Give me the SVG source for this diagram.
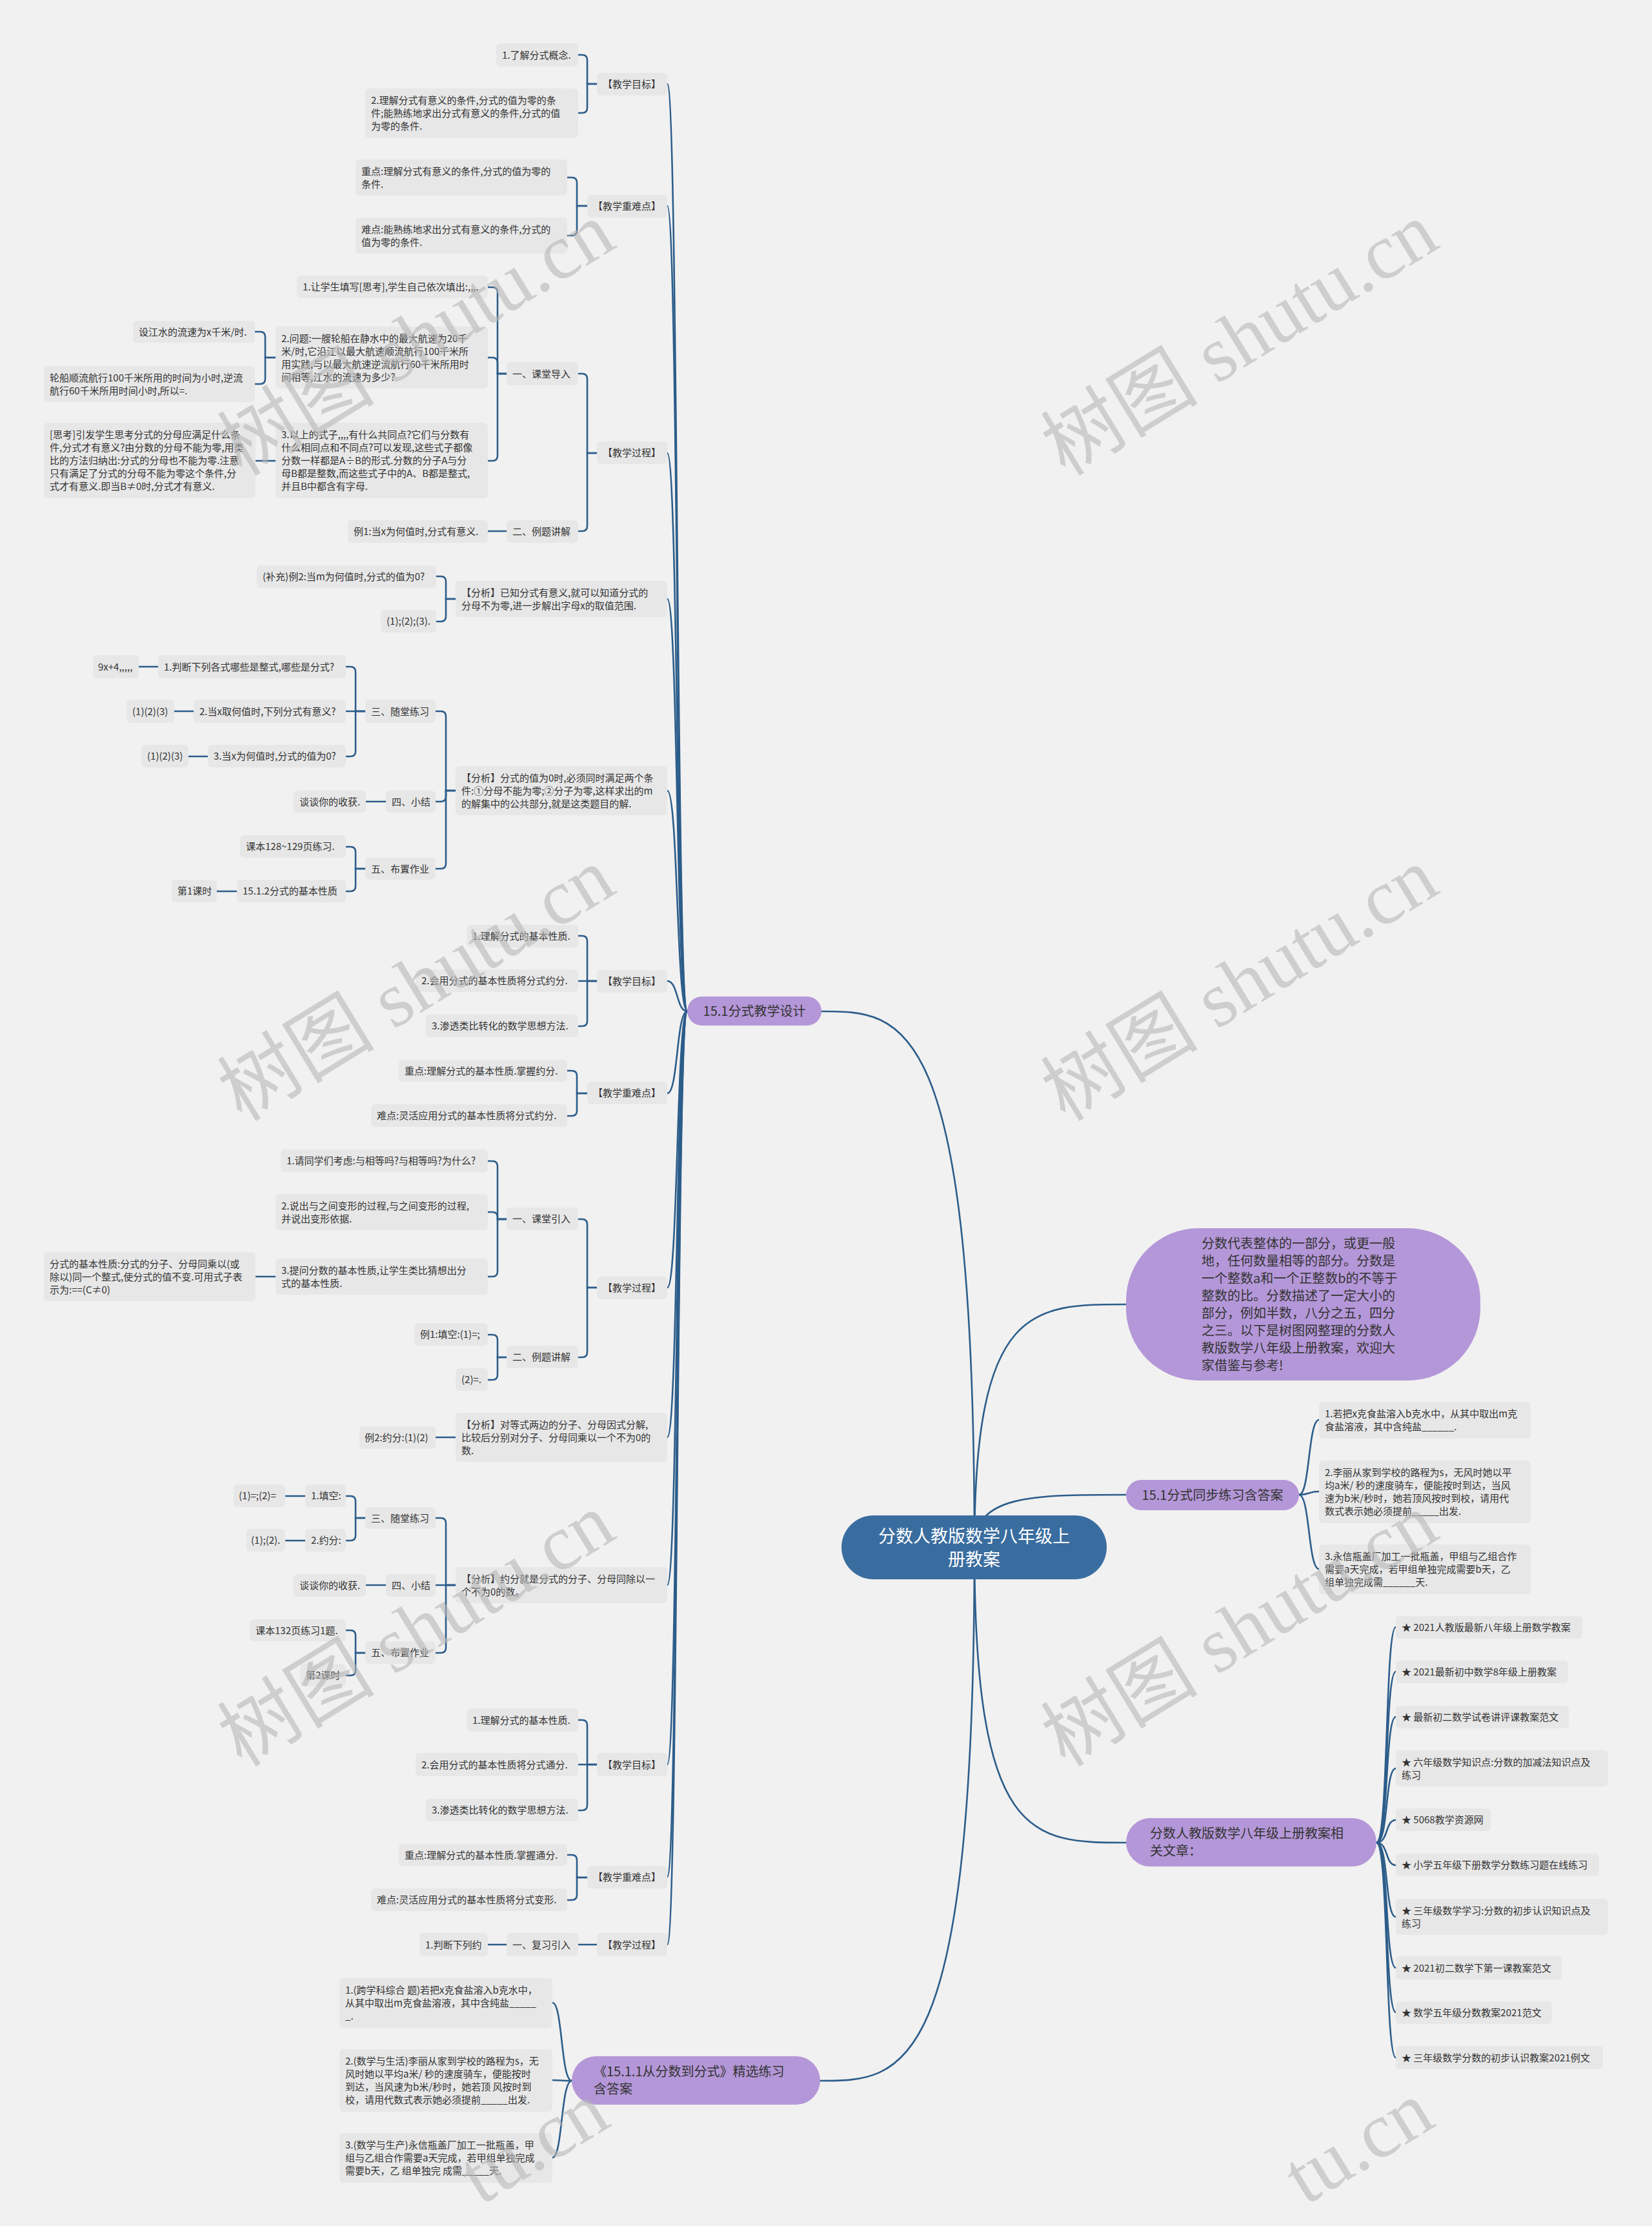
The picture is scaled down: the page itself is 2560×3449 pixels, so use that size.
<svg xmlns="http://www.w3.org/2000/svg" width="2560" height="3449" viewBox="0 0 2560 3449">
<style>
.bg{fill:#f1f1f1}
.lf{fill:#e7e7e7}
.p{fill:#b497d8}
.rt{fill:#3a6d9f}
text{font-family:"Noto Sans CJK SC","Liberation Sans",sans-serif;fill:#333}
.t{font-size:15px}
.t1{font-size:20px}
.tr{font-size:27px;fill:#fff}
.c{fill:none;stroke:#2c5d8a;stroke-width:2.6;stroke-linecap:round}
.wm{font-family:"Liberation Serif","Noto Sans CJK SC",serif;font-size:122px;fill:#b8b8b8;fill-opacity:0.6}
</style>
<rect class="bg" x="0" y="0" width="2560" height="3449"/>

<g id="connectors">
<path class="c" d="M 1510 2397 C 1510 1567, 1400 1567, 1273 1567"/>
<path class="c" d="M 1510 2397 C 1510 3224, 1400 3224, 1271 3224"/>
<path class="c" d="M 1510 2397 C 1510 2021, 1600 2021, 1745 2021"/>
<path class="c" d="M 1510 2397 C 1510 2316, 1600 2316, 1745 2316"/>
<path class="c" d="M 1510 2397 C 1510 2855, 1600 2855, 1745 2855"/>

<path class="c" d="M 1065 1567 C 1048 1567, 1051 130, 1034 130"/>
<path class="c" d="M 1065 1567 C 1048 1567, 1051 319, 1034 319"/>
<path class="c" d="M 1065 1567 C 1048 1567, 1051 702, 1034 702"/>
<path class="c" d="M 1065 1567 C 1048 1567, 1051 928, 1034 928"/>
<path class="c" d="M 1065 1567 C 1048 1567, 1051 1225, 1034 1225"/>
<path class="c" d="M 1065 1567 C 1048 1567, 1051 1520, 1034 1520"/>
<path class="c" d="M 1065 1567 C 1048 1567, 1051 1694, 1034 1694"/>
<path class="c" d="M 1065 1567 C 1048 1567, 1051 1995, 1034 1995"/>
<path class="c" d="M 1065 1567 C 1048 1567, 1051 2227, 1034 2227"/>
<path class="c" d="M 1065 1567 C 1048 1567, 1051 2456, 1034 2456"/>
<path class="c" d="M 1065 1567 C 1048 1567, 1051 2734, 1034 2734"/>
<path class="c" d="M 1065 1567 C 1048 1567, 1051 2908, 1034 2908"/>
<path class="c" d="M 1065 1567 C 1048 1567, 1051 3013, 1034 3013"/>

<path class="c" d="M 886 3224 C 869 3224, 872 3103, 856 3103"/>
<path class="c" d="M 886 3224 C 869 3224, 872 3223, 856 3223"/>
<path class="c" d="M 886 3224 C 869 3224, 872 3343, 856 3343"/>

<path class="c" d="M 2013 2316 C 2030 2316, 2027 2200, 2044 2200"/>
<path class="c" d="M 2013 2316 C 2030 2316, 2027 2311, 2044 2311"/>
<path class="c" d="M 2013 2316 C 2030 2316, 2027 2431, 2044 2431"/>

<path class="c" d="M 2133 2855 C 2152 2855, 2146 2521, 2163 2521"/>
<path class="c" d="M 2133 2855 C 2152 2855, 2146 2590, 2163 2590"/>
<path class="c" d="M 2133 2855 C 2152 2855, 2146 2660, 2163 2660"/>
<path class="c" d="M 2133 2855 C 2152 2855, 2146 2740, 2163 2740"/>
<path class="c" d="M 2133 2855 C 2152 2855, 2146 2820, 2163 2820"/>
<path class="c" d="M 2133 2855 C 2152 2855, 2146 2890, 2163 2890"/>
<path class="c" d="M 2133 2855 C 2152 2855, 2146 2970, 2163 2970"/>
<path class="c" d="M 2133 2855 C 2152 2855, 2146 3049, 2163 3049"/>
<path class="c" d="M 2133 2855 C 2152 2855, 2146 3118, 2163 3118"/>
<path class="c" d="M 2133 2855 C 2152 2855, 2146 3188, 2163 3188"/>

<path class="c" d="M 925 130 H 910 V 93 Q 910 85 902 85 H 896"/>
<path class="c" d="M 925 130 H 910 V 167 Q 910 175 902 175 H 896"/>
<path class="c" d="M 910 319 H 894 V 283 Q 894 275 886 275 H 879"/>
<path class="c" d="M 910 319 H 894 V 357 Q 894 365 886 365 H 879"/>
<path class="c" d="M 925 702 H 910 V 587 Q 910 579 902 579 H 896"/>
<path class="c" d="M 925 702 H 910 V 815 Q 910 823 902 823 H 896"/>
<path class="c" d="M 785 579 H 771 V 453 Q 771 445 763 445 H 756"/>
<path class="c" d="M 785 579 H 771 V 562 Q 771 554 763 554 H 756"/>
<path class="c" d="M 785 579 H 771 V 706 Q 771 714 763 714 H 756"/>
<path class="c" d="M 427 554 H 411 V 522 Q 411 514 403 514 H 395"/>
<path class="c" d="M 427 554 H 411 V 587 Q 411 595 403 595 H 395"/>
<path class="c" d="M 427 714 H 396"/>
<path class="c" d="M 785 823 H 756"/>
<path class="c" d="M 706 928 H 691 V 901 Q 691 893 683 893 H 676"/>
<path class="c" d="M 706 928 H 691 V 955 Q 691 963 683 963 H 676"/>
<path class="c" d="M 706 1225 H 691 V 1110 Q 691 1102 683 1102 H 675"/>
<path class="c" d="M 706 1225 H 691 V 1234 Q 691 1242 683 1242 H 675"/>
<path class="c" d="M 706 1225 H 691 V 1338 Q 691 1346 683 1346 H 675"/>
<path class="c" d="M 566 1102 H 551 V 1041 Q 551 1033 543 1033 H 536"/>
<path class="c" d="M 566 1102 H 536"/>
<path class="c" d="M 566 1102 H 551 V 1164 Q 551 1172 543 1172 H 536"/>
<path class="c" d="M 245 1033 H 215"/>
<path class="c" d="M 300 1102 H 270"/>
<path class="c" d="M 322 1172 H 292"/>
<path class="c" d="M 598 1242 H 567"/>
<path class="c" d="M 566 1346 H 551 V 1320 Q 551 1312 543 1312 H 536"/>
<path class="c" d="M 566 1346 H 551 V 1373 Q 551 1381 543 1381 H 536"/>
<path class="c" d="M 367 1381 H 336"/>
<path class="c" d="M 925 1520 H 910 V 1458 Q 910 1450 902 1450 H 896"/>
<path class="c" d="M 925 1520 H 896"/>
<path class="c" d="M 925 1520 H 910 V 1582 Q 910 1590 902 1590 H 896"/>
<path class="c" d="M 910 1694 H 894 V 1667 Q 894 1659 886 1659 H 879"/>
<path class="c" d="M 910 1694 H 894 V 1721 Q 894 1729 886 1729 H 879"/>
<path class="c" d="M 925 1995 H 910 V 1897 Q 910 1889 902 1889 H 896"/>
<path class="c" d="M 925 1995 H 910 V 2095 Q 910 2103 902 2103 H 896"/>
<path class="c" d="M 785 1889 H 771 V 1807 Q 771 1799 763 1799 H 756"/>
<path class="c" d="M 785 1889 H 771 V 1886 Q 771 1878 763 1878 H 756"/>
<path class="c" d="M 785 1889 H 771 V 1970 Q 771 1978 763 1978 H 756"/>
<path class="c" d="M 427 1978 H 396"/>
<path class="c" d="M 785 2103 H 771 V 2076 Q 771 2068 763 2068 H 756"/>
<path class="c" d="M 785 2103 H 771 V 2130 Q 771 2138 763 2138 H 756"/>
<path class="c" d="M 706 2227 H 675"/>
<path class="c" d="M 706 2456 H 691 V 2360 Q 691 2352 683 2352 H 675"/>
<path class="c" d="M 706 2456 H 675"/>
<path class="c" d="M 706 2456 H 691 V 2553 Q 691 2561 683 2561 H 675"/>
<path class="c" d="M 566 2352 H 551 V 2326 Q 551 2318 543 2318 H 536"/>
<path class="c" d="M 566 2352 H 551 V 2379 Q 551 2387 543 2387 H 536"/>
<path class="c" d="M 473 2318 H 442"/>
<path class="c" d="M 473 2387 H 442"/>
<path class="c" d="M 598 2456 H 567"/>
<path class="c" d="M 566 2561 H 551 V 2534 Q 551 2526 543 2526 H 536"/>
<path class="c" d="M 566 2561 H 551 V 2588 Q 551 2596 543 2596 H 536"/>
<path class="c" d="M 925 2734 H 910 V 2673 Q 910 2665 902 2665 H 896"/>
<path class="c" d="M 925 2734 H 896"/>
<path class="c" d="M 925 2734 H 910 V 2797 Q 910 2805 902 2805 H 896"/>
<path class="c" d="M 910 2909 H 894 V 2882 Q 894 2874 886 2874 H 879"/>
<path class="c" d="M 910 2909 H 894 V 2936 Q 894 2944 886 2944 H 879"/>
<path class="c" d="M 925 3013 H 896"/>
<path class="c" d="M 785 3013 H 756"/>
</g>

<g id="root"><rect class="rt" x="1304" y="2348" width="411" height="99" rx="49.5"/><text class="tr" text-anchor="middle"><tspan x="1509.5" y="2390">分数人教版数学八年级上</tspan><tspan x="1509.5" y="2426">册教案</tspan></text></g>

<g id="summary"><rect class="p" x="1745" y="1903" width="549" height="236" rx="112"/><text class="t1"><tspan x="1862" y="1934">分数代表整体的一部分，或更一般</tspan><tspan x="1862" y="1961">地，任何数量相等的部分。分数是</tspan><tspan x="1862" y="1988">一个整数a和一个正整数b的不等于</tspan><tspan x="1862" y="2015">整数的比。分数描述了一定大小的</tspan><tspan x="1862" y="2042">部分，例如半数，八分之五，四分</tspan><tspan x="1862" y="2069">之三。以下是树图网整理的分数人</tspan><tspan x="1862" y="2096">教版数学八年级上册教案，欢迎大</tspan><tspan x="1862" y="2123">家借鉴与参考!</tspan></text></g>

<g id="sync"><rect class="p" x="1745" y="2293" width="268" height="47" rx="23.5"/><text class="t1" x="1879" y="2324" text-anchor="middle">15.1分式同步练习含答案</text></g>
<g id="sync1"><rect class="lf" x="2044" y="2172" width="328" height="57" rx="6"/><text class="t"><tspan x="2053" y="2196">1.若把x克食盐溶入b克水中，从其中取出m克</tspan><tspan x="2053" y="2216">食盐溶液，其中含纯盐______.</tspan></text></g>
<g id="sync2"><rect class="lf" x="2044" y="2263" width="328" height="97" rx="6"/><text class="t"><tspan x="2053" y="2287">2.李丽从家到学校的路程为s，无风时她以平</tspan><tspan x="2053" y="2307">均a米/ 秒的速度骑车，便能按时到达，当风</tspan><tspan x="2053" y="2327">速为b米/秒时，她若顶风按时到校，请用代</tspan><tspan x="2053" y="2347">数式表示她必须提前_____出发.</tspan></text></g>
<g id="sync3"><rect class="lf" x="2044" y="2393" width="328" height="77" rx="6"/><text class="t"><tspan x="2053" y="2417">3.永信瓶盖厂加工一批瓶盖，甲组与乙组合作</tspan><tspan x="2053" y="2437">需要a天完成，若甲组单独完成需要b天，乙</tspan><tspan x="2053" y="2457">组单独完成需______天.</tspan></text></g>

<g id="related"><rect class="p" x="1745" y="2817" width="388" height="75" rx="37.5"/><text class="t1"><tspan x="1782" y="2848">分数人教版数学八年级上册教案相</tspan><tspan x="1782" y="2875">关文章：</tspan></text></g>
<g id="rel1"><rect class="lf" x="2163" y="2504" width="289" height="35" rx="6"/><text class="t" x="2172" y="2527">★ 2021人教版最新八年级上册数学教案</text></g>
<g id="rel2"><rect class="lf" x="2163" y="2573" width="267" height="35" rx="6"/><text class="t" x="2172" y="2596">★ 2021最新初中数学8年级上册教案</text></g>
<g id="rel3"><rect class="lf" x="2163" y="2643" width="268" height="35" rx="6"/><text class="t" x="2172" y="2666">★ 最新初二数学试卷讲评课教案范文</text></g>
<g id="rel4"><rect class="lf" x="2163" y="2712" width="329" height="56" rx="6"/><text class="t"><tspan x="2172" y="2735.5">★ 六年级数学知识点:分数的加减法知识点及</tspan><tspan x="2172" y="2755.5">练习</tspan></text></g>
<g id="rel5"><rect class="lf" x="2163" y="2802" width="147" height="35" rx="6"/><text class="t" x="2172" y="2825">★ 5068教学资源网</text></g>
<g id="rel6"><rect class="lf" x="2163" y="2872" width="315" height="35" rx="6"/><text class="t" x="2172" y="2895">★ 小学五年级下册数学分数练习题在线练习</text></g>
<g id="rel7"><rect class="lf" x="2163" y="2942" width="329" height="56" rx="6"/><text class="t"><tspan x="2172" y="2965.5">★ 三年级数学学习:分数的初步认识知识点及</tspan><tspan x="2172" y="2985.5">练习</tspan></text></g>
<g id="rel8"><rect class="lf" x="2163" y="3031" width="257" height="36" rx="6"/><text class="t" x="2172" y="3054.5">★ 2021初二数学下第一课教案范文</text></g>
<g id="rel9"><rect class="lf" x="2163" y="3101" width="242" height="35" rx="6"/><text class="t" x="2172" y="3124">★ 数学五年级分数教案2021范文</text></g>
<g id="rel10"><rect class="lf" x="2163" y="3170" width="321" height="36" rx="6"/><text class="t" x="2172" y="3193.5">★ 三年级数学分数的初步认识教案2021例文</text></g>

<g id="practice"><rect class="p" x="886" y="3186" width="385" height="75" rx="37.5"/><text class="t1"><tspan x="920" y="3217">《15.1.1从分数到分式》精选练习</tspan><tspan x="920" y="3244">含答案</tspan></text></g>
<g id="prac1"><rect class="lf" x="526" y="3065" width="330" height="77" rx="6"/><text class="t"><tspan x="535" y="3089">1.(跨学科综合 题)若把x克食盐溶入b克水中，</tspan><tspan x="535" y="3109">从其中取出m克食盐溶液，其中含纯盐_____</tspan><tspan x="535" y="3129">_.</tspan></text></g>
<g id="prac2"><rect class="lf" x="526" y="3175" width="330" height="97" rx="6"/><text class="t"><tspan x="535" y="3199">2.(数学与生活)李丽从家到学校的路程为s，无</tspan><tspan x="535" y="3219">风时她以平均a米/ 秒的速度骑车，便能按时</tspan><tspan x="535" y="3239">到达，当风速为b米/秒时，她若顶 风按时到</tspan><tspan x="535" y="3259">校，请用代数式表示她必须提前_____出发.</tspan></text></g>
<g id="prac3"><rect class="lf" x="526" y="3305" width="330" height="77" rx="6"/><text class="t"><tspan x="535" y="3329">3.(数学与生产)永信瓶盖厂加工一批瓶盖，甲</tspan><tspan x="535" y="3349">组与乙组合作需要a天完成，若甲组单独完成</tspan><tspan x="535" y="3369">需要b天，乙 组单独完 成需_____天.</tspan></text></g>

<g id="design"><rect class="p" x="1065" y="1544" width="208" height="45" rx="22.5"/><text class="t1" x="1169" y="1574" text-anchor="middle">15.1分式教学设计</text></g>

<g id="a1"><rect class="lf" x="925" y="113" width="109" height="35" rx="6"/><text class="t" x="934" y="136">【教学目标】</text></g>
<g id="a1n1"><rect class="lf" x="769" y="67" width="127" height="36" rx="6"/><text class="t" x="778" y="90.5">1.了解分式概念.</text></g>
<g id="a1n2"><rect class="lf" x="566" y="137" width="330" height="77" rx="6"/><text class="t"><tspan x="575" y="161">2.理解分式有意义的条件,分式的值为零的条</tspan><tspan x="575" y="181">件;能熟练地求出分式有意义的条件,分式的值</tspan><tspan x="575" y="201">为零的条件.</tspan></text></g>
<g id="a2"><rect class="lf" x="910" y="302" width="124" height="35" rx="6"/><text class="t" x="919" y="325">【教学重难点】</text></g>
<g id="a2n1"><rect class="lf" x="551" y="247" width="328" height="56" rx="6"/><text class="t"><tspan x="560" y="270.5">重点:理解分式有意义的条件,分式的值为零的</tspan><tspan x="560" y="290.5">条件.</tspan></text></g>
<g id="a2n2"><rect class="lf" x="551" y="337" width="328" height="56" rx="6"/><text class="t"><tspan x="560" y="360.5">难点:能熟练地求出分式有意义的条件,分式的</tspan><tspan x="560" y="380.5">值为零的条件.</tspan></text></g>
<g id="a3"><rect class="lf" x="925" y="684" width="109" height="35" rx="6"/><text class="t" x="934" y="707">【教学过程】</text></g>
<g id="b1"><rect class="lf" x="785" y="561" width="111" height="36" rx="6"/><text class="t" x="794" y="584.5">一、课堂导入</text></g>
<g id="b1n1"><rect class="lf" x="460" y="427" width="296" height="35" rx="6"/><text class="t" x="469" y="450">1.让学生填写[思考],学生自己依次填出:,,,.</text></g>
<g id="b1n2"><rect class="lf" x="427" y="506" width="329" height="96" rx="6"/><text class="t"><tspan x="436" y="529.5">2.问题:一艘轮船在静水中的最大航速为20千</tspan><tspan x="436" y="549.5">米/时,它沿江以最大航速顺流航行100千米所</tspan><tspan x="436" y="569.5">用实践,与以最大航速逆流航行60千米所用时</tspan><tspan x="436" y="589.5">间相等,江水的流速为多少?</tspan></text></g>
<g id="b1n2a"><rect class="lf" x="206" y="497" width="189" height="34" rx="6"/><text class="t" x="215" y="519.5">设江水的流速为x千米/时.</text></g>
<g id="b1n2b"><rect class="lf" x="68" y="567" width="327" height="56" rx="6"/><text class="t"><tspan x="77" y="590.5">轮船顺流航行100千米所用的时间为小时,逆流</tspan><tspan x="77" y="610.5">航行60千米所用时间小时,所以=.</tspan></text></g>
<g id="b1n3"><rect class="lf" x="427" y="655" width="329" height="117" rx="6"/><text class="t"><tspan x="436" y="679">3.以上的式子,,,,有什么共同点?它们与分数有</tspan><tspan x="436" y="699">什么相同点和不同点?可以发现,这些式子都像</tspan><tspan x="436" y="719">分数一样都是A÷B的形式.分数的分子A与分</tspan><tspan x="436" y="739">母B都是整数,而这些式子中的A、B都是整式,</tspan><tspan x="436" y="759">并且B中都含有字母.</tspan></text></g>
<g id="b1n3a"><rect class="lf" x="68" y="655" width="328" height="117" rx="6"/><text class="t"><tspan x="77" y="679">[思考]引发学生思考分式的分母应满足什么条</tspan><tspan x="77" y="699">件,分式才有意义?由分数的分母不能为零,用类</tspan><tspan x="77" y="719">比的方法归纳出:分式的分母也不能为零.注意</tspan><tspan x="77" y="739">只有满足了分式的分母不能为零这个条件,分</tspan><tspan x="77" y="759">式才有意义.即当B≠0时,分式才有意义.</tspan></text></g>
<g id="b2"><rect class="lf" x="785" y="806" width="111" height="35" rx="6"/><text class="t" x="794" y="829">二、例题讲解</text></g>
<g id="b2n1"><rect class="lf" x="539" y="806" width="217" height="35" rx="6"/><text class="t" x="548" y="829">例1:当x为何值时,分式有意义.</text></g>

<g id="a4"><rect class="lf" x="706" y="900" width="328" height="56" rx="6"/><text class="t"><tspan x="715" y="923.5">【分析】已知分式有意义,就可以知道分式的</tspan><tspan x="715" y="943.5">分母不为零,进一步解出字母x的取值范围.</tspan></text></g>
<g id="a4n1"><rect class="lf" x="398" y="876" width="278" height="35" rx="6"/><text class="t" x="407" y="899">(补充)例2:当m为何值时,分式的值为0?</text></g>
<g id="a4n2"><rect class="lf" x="590" y="945" width="86" height="35" rx="6"/><text class="t" x="599" y="968">(1);(2);(3).</text></g>

<g id="a5"><rect class="lf" x="706" y="1187" width="328" height="76" rx="6"/><text class="t"><tspan x="715" y="1210.5">【分析】分式的值为0时,必须同时满足两个条</tspan><tspan x="715" y="1230.5">件:①分母不能为零;②分子为零,这样求出的m</tspan><tspan x="715" y="1250.5">的解集中的公共部分,就是这类题目的解.</tspan></text></g>
<g id="c1"><rect class="lf" x="566" y="1084" width="109" height="36" rx="6"/><text class="t" x="575" y="1107.5">三、随堂练习</text></g>
<g id="c1n1"><rect class="lf" x="245" y="1015" width="291" height="36" rx="6"/><text class="t" x="254" y="1038.5">1.判断下列各式哪些是整式,哪些是分式?</text></g>
<g id="c1n1a"><rect class="lf" x="144" y="1015" width="71" height="36" rx="6"/><text class="t" x="152" y="1038.5">9x+4,,,,,</text></g>
<g id="c1n2"><rect class="lf" x="300" y="1084" width="236" height="36" rx="6"/><text class="t" x="309" y="1107.5">2.当x取何值时,下列分式有意义?</text></g>
<g id="c1n2a"><rect class="lf" x="196" y="1084" width="74" height="36" rx="6"/><text class="t" x="205" y="1107.5">(1)(2)(3)</text></g>
<g id="c1n3"><rect class="lf" x="322" y="1154" width="214" height="35" rx="6"/><text class="t" x="331" y="1177">3.当x为何值时,分式的值为0?</text></g>
<g id="c1n3a"><rect class="lf" x="219" y="1154" width="73" height="35" rx="6"/><text class="t" x="228" y="1177">(1)(2)(3)</text></g>
<g id="c2"><rect class="lf" x="598" y="1225" width="77" height="34" rx="6"/><text class="t" x="607" y="1247.5">四、小结</text></g>
<g id="c2n1"><rect class="lf" x="455" y="1225" width="112" height="34" rx="6"/><text class="t" x="464" y="1247.5">谈谈你的收获.</text></g>
<g id="c3"><rect class="lf" x="566" y="1329" width="109" height="34" rx="6"/><text class="t" x="575" y="1351.5">五、布置作业</text></g>
<g id="c3n1"><rect class="lf" x="372" y="1294" width="164" height="35" rx="6"/><text class="t" x="381" y="1317">课本128~129页练习.</text></g>
<g id="c3n2"><rect class="lf" x="367" y="1363" width="169" height="35" rx="6"/><text class="t" x="376" y="1386">15.1.2分式的基本性质</text></g>
<g id="c3n2a"><rect class="lf" x="266" y="1363" width="70" height="35" rx="6"/><text class="t" x="275" y="1386">第1课时</text></g>

<g id="a6"><rect class="lf" x="925" y="1503" width="109" height="35" rx="6"/><text class="t" x="934" y="1526">【教学目标】</text></g>
<g id="a6n1"><rect class="lf" x="723" y="1433" width="173" height="35" rx="6"/><text class="t" x="732" y="1456">1.理解分式的基本性质.</text></g>
<g id="a6n2"><rect class="lf" x="644" y="1502" width="252" height="35" rx="6"/><text class="t" x="653" y="1525">2.会用分式的基本性质将分式约分.</text></g>
<g id="a6n3"><rect class="lf" x="660" y="1572" width="236" height="35" rx="6"/><text class="t" x="669" y="1595">3.渗透类比转化的数学思想方法.</text></g>
<g id="a7"><rect class="lf" x="910" y="1676" width="124" height="35" rx="6"/><text class="t" x="919" y="1699">【教学重难点】</text></g>
<g id="a7n1"><rect class="lf" x="618" y="1642" width="261" height="34" rx="6"/><text class="t" x="627" y="1664.5">重点:理解分式的基本性质.掌握约分.</text></g>
<g id="a7n2"><rect class="lf" x="575" y="1711" width="304" height="35" rx="6"/><text class="t" x="584" y="1734">难点:灵活应用分式的基本性质将分式约分.</text></g>
<g id="a8"><rect class="lf" x="925" y="1978" width="109" height="35" rx="6"/><text class="t" x="934" y="2001">【教学过程】</text></g>
<g id="d1"><rect class="lf" x="785" y="1871" width="111" height="35" rx="6"/><text class="t" x="794" y="1894">一、课堂引入</text></g>
<g id="d1n1"><rect class="lf" x="435" y="1781" width="321" height="35" rx="6"/><text class="t" x="444" y="1804">1.请同学们考虑:与相等吗?与相等吗?为什么?</text></g>
<g id="d1n2"><rect class="lf" x="427" y="1850" width="329" height="56" rx="6"/><text class="t"><tspan x="436" y="1873.5">2.说出与之间变形的过程,与之间变形的过程,</tspan><tspan x="436" y="1893.5">并说出变形依据.</tspan></text></g>
<g id="d1n3"><rect class="lf" x="427" y="1950" width="329" height="56" rx="6"/><text class="t"><tspan x="436" y="1973.5">3.提问分数的基本性质,让学生类比猜想出分</tspan><tspan x="436" y="1993.5">式的基本性质.</tspan></text></g>
<g id="d1n3a"><rect class="lf" x="68" y="1940" width="328" height="76" rx="6"/><text class="t"><tspan x="77" y="1963.5">分式的基本性质:分式的分子、分母同乘以(或</tspan><tspan x="77" y="1983.5">除以)同一个整式,使分式的值不变.可用式子表</tspan><tspan x="77" y="2003.5">示为:==(C≠0)</tspan></text></g>
<g id="d2"><rect class="lf" x="785" y="2085" width="111" height="35" rx="6"/><text class="t" x="794" y="2108">二、例题讲解</text></g>
<g id="d2n1"><rect class="lf" x="642" y="2050" width="114" height="35" rx="6"/><text class="t" x="651" y="2073">例1:填空:(1)=;</text></g>
<g id="d2n2"><rect class="lf" x="706" y="2120" width="50" height="35" rx="6"/><text class="t" x="715" y="2143">(2)=.</text></g>

<g id="a9"><rect class="lf" x="706" y="2189" width="328" height="76" rx="6"/><text class="t"><tspan x="715" y="2212.5">【分析】对等式两边的分子、分母因式分解,</tspan><tspan x="715" y="2232.5">比较后分别对分子、分母同乘以一个不为0的</tspan><tspan x="715" y="2252.5">数.</tspan></text></g>
<g id="a9n1"><rect class="lf" x="557" y="2210" width="118" height="35" rx="6"/><text class="t" x="565" y="2233">例2:约分:(1)(2)</text></g>

<g id="a10"><rect class="lf" x="706" y="2428" width="328" height="56" rx="6"/><text class="t"><tspan x="715" y="2451.5">【分析】约分就是分式的分子、分母同除以一</tspan><tspan x="715" y="2471.5">个不为0的数。</tspan></text></g>
<g id="e1"><rect class="lf" x="566" y="2335" width="109" height="34" rx="6"/><text class="t" x="575" y="2357.5">三、随堂练习</text></g>
<g id="e1n1"><rect class="lf" x="473" y="2300" width="63" height="35" rx="6"/><text class="t" x="482" y="2323">1.填空:</text></g>
<g id="e1n1a"><rect class="lf" x="362" y="2300" width="80" height="35" rx="6"/><text class="t" x="370" y="2323">(1)=;(2)=</text></g>
<g id="e1n2"><rect class="lf" x="473" y="2369" width="63" height="35" rx="6"/><text class="t" x="482" y="2392">2.约分:</text></g>
<g id="e1n2a"><rect class="lf" x="382" y="2369" width="60" height="35" rx="6"/><text class="t" x="389" y="2392">(1);(2).</text></g>
<g id="e2"><rect class="lf" x="598" y="2439" width="77" height="35" rx="6"/><text class="t" x="607" y="2462">四、小结</text></g>
<g id="e2n1"><rect class="lf" x="455" y="2439" width="112" height="35" rx="6"/><text class="t" x="464" y="2462">谈谈你的收获.</text></g>
<g id="e3"><rect class="lf" x="566" y="2543" width="109" height="35" rx="6"/><text class="t" x="575" y="2566">五、布置作业</text></g>
<g id="e3n1"><rect class="lf" x="387" y="2509" width="149" height="34" rx="6"/><text class="t" x="396" y="2531.5">课本132页练习1题.</text></g>
<g id="e3n2"><rect class="lf" x="465" y="2578" width="71" height="35" rx="6"/><text class="t" x="474" y="2601">第2课时</text></g>

<g id="a11"><rect class="lf" x="925" y="2716" width="109" height="36" rx="6"/><text class="t" x="934" y="2739.5">【教学目标】</text></g>
<g id="a11n1"><rect class="lf" x="723" y="2647" width="173" height="36" rx="6"/><text class="t" x="732" y="2670.5">1.理解分式的基本性质.</text></g>
<g id="a11n2"><rect class="lf" x="644" y="2716" width="252" height="36" rx="6"/><text class="t" x="653" y="2739.5">2.会用分式的基本性质将分式通分.</text></g>
<g id="a11n3"><rect class="lf" x="660" y="2787" width="236" height="35" rx="6"/><text class="t" x="669" y="2810">3.渗透类比转化的数学思想方法.</text></g>
<g id="a12"><rect class="lf" x="910" y="2891" width="124" height="35" rx="6"/><text class="t" x="919" y="2914">【教学重难点】</text></g>
<g id="a12n1"><rect class="lf" x="618" y="2857" width="261" height="34" rx="6"/><text class="t" x="627" y="2879.5">重点:理解分式的基本性质.掌握通分.</text></g>
<g id="a12n2"><rect class="lf" x="575" y="2926" width="304" height="35" rx="6"/><text class="t" x="584" y="2949">难点:灵活应用分式的基本性质将分式变形.</text></g>
<g id="a13"><rect class="lf" x="925" y="2995" width="109" height="36" rx="6"/><text class="t" x="934" y="3018.5">【教学过程】</text></g>
<g id="f1"><rect class="lf" x="785" y="2995" width="111" height="36" rx="6"/><text class="t" x="794" y="3018.5">一、复习引入</text></g>
<g id="f1n1"><rect class="lf" x="650" y="2995" width="106" height="36" rx="6"/><text class="t" x="659" y="3018.5">1.判断下列约</text></g>

<g id="watermark">
<text class="wm" text-anchor="middle" dominant-baseline="central" transform="translate(645 525) rotate(-31.5)">树图 shutu.cn</text>
<text class="wm" text-anchor="middle" dominant-baseline="central" transform="translate(645 1525) rotate(-31.5)">树图 shutu.cn</text>
<text class="wm" text-anchor="middle" dominant-baseline="central" transform="translate(645 2525) rotate(-31.5)">树图 shutu.cn</text>
<text class="wm" transform="translate(745 3418) rotate(-31.5)">tu.cn</text>
<text class="wm" text-anchor="middle" dominant-baseline="central" transform="translate(1921 525) rotate(-31.5)">树图 shutu.cn</text>
<text class="wm" text-anchor="middle" dominant-baseline="central" transform="translate(1921 1525) rotate(-31.5)">树图 shutu.cn</text>
<text class="wm" text-anchor="middle" dominant-baseline="central" transform="translate(1921 2525) rotate(-31.5)">树图 shutu.cn</text>
<text class="wm" transform="translate(2023 3418) rotate(-31.5)">tu.cn</text>
</g>
</svg>
